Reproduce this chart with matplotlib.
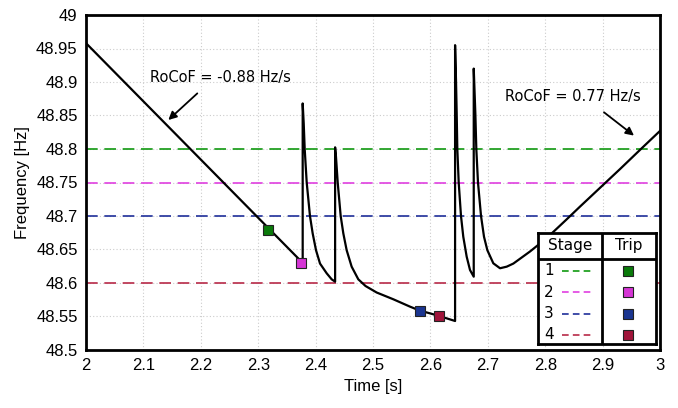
import matplotlib
matplotlib.use("Agg")
import matplotlib.pyplot as plt
from matplotlib.ticker import FuncFormatter, MultipleLocator

# frequency trace (time in s, frequency in Hz)
time = [2.0, 2.3775,
        # trip 1/2 -> first jump and decay
        2.3775, 2.3793, 2.3810, 2.3845, 2.3902, 2.3949, 2.4007, 2.4077, 2.4193, 2.428, 2.434,
        # second jump and decay
        2.434, 2.4355, 2.4385, 2.4437, 2.4483, 2.4541, 2.4628, 2.4744, 2.487,
        2.5064, 2.5354, 2.5645, 2.5819, 2.5993, 2.6155, 2.643,
        # third jump and decay
        2.643, 2.6446, 2.6458, 2.6469, 2.6493, 2.6533, 2.6573, 2.6632, 2.669, 2.6755,
        # fourth jump and decay
        2.6755, 2.6783, 2.6800, 2.6829, 2.6882, 2.6934, 2.6992, 2.7096, 2.7213,
        # recovery
        2.733, 2.7445, 2.7735, 2.8026, 2.8374, 2.8606, 2.9303, 2.968, 3.0]
freq = [48.958, 48.630,
        48.868, 48.838, 48.800, 48.750, 48.700, 48.674, 48.649, 48.629, 48.6145, 48.6055, 48.602,
        48.8025, 48.7885, 48.750, 48.700, 48.674, 48.649, 48.6244, 48.6055, 48.5955,
        48.5858, 48.5757, 48.5647, 48.5587, 48.5547, 48.5507, 48.5433,
        48.955, 48.903, 48.853, 48.800, 48.750, 48.700, 48.669, 48.6393, 48.6194, 48.6094,
        48.920, 48.853, 48.800, 48.750, 48.700, 48.669, 48.649, 48.6294, 48.622,
        48.6244, 48.629, 48.647, 48.667, 48.695, 48.714, 48.770, 48.801, 48.827]

# under-frequency load shedding stages
stages = ["1", "2", "3", "4"]
thresholds = [48.80, 48.75, 48.70, 48.60]
trip_time = [2.3165, 2.374, 2.5819, 2.6155]
trip_freq = [48.679, 48.630, 48.5587, 48.5507]
line_colors = ["#119911", "#e040e0", "#1f2f9a", "#b82a48"]
mark_colors = ["#0a7a0a", "#d535d5", "#1a3590", "#a0143a"]

rocof_text = ["RoCoF = -0.88 Hz/s", "RoCoF = 0.77 Hz/s"]
rocof_xy = [(2.1434, 48.8433), (2.9547, 48.820)]
rocof_txt_xy = [(2.1939, 48.883), (2.9024, 48.8548)]

fig = plt.figure(figsize=(6.78, 4.08), dpi=100)
ax = fig.add_axes([86 / 678, 58 / 408, 574 / 678, 335 / 408])

for thr, c in zip(thresholds, line_colors):
    ax.axhline(thr, color=c, lw=1.2, dashes=(7, 4), zorder=2)

ax.plot(time, freq, color="black", lw=1.6, zorder=3)

for tt, ff, c in zip(trip_time, trip_freq, mark_colors):
    ax.plot(tt, ff, "s", ms=7, mfc=c, mec="#222222", mew=0.8, zorder=4)

for txt, xy, xyt in zip(rocof_text, rocof_xy, rocof_txt_xy):
    ax.annotate("", xy=xy, xytext=xyt,
                arrowprops=dict(arrowstyle="-|>", color="black", lw=1.3,
                                mutation_scale=12, shrinkA=0, shrinkB=0))
ax.text(2.2334, 48.906, rocof_text[0], ha="center", va="center",
        fontsize=10.5, family="DejaVu Sans")
ax.text(2.848, 48.879, rocof_text[1], ha="center", va="center",
        fontsize=10.5, family="DejaVu Sans")

ax.set_xlim(2, 3)
ax.set_ylim(48.5, 49)
ax.xaxis.set_major_locator(MultipleLocator(0.1))
ax.yaxis.set_major_locator(MultipleLocator(0.05))
fmt = FuncFormatter(lambda v, p: "%g" % round(v, 3))
ax.xaxis.set_major_formatter(fmt)
ax.yaxis.set_major_formatter(fmt)
ax.tick_params(length=0, labelsize=12, pad=6)
for lab in ax.get_xticklabels() + ax.get_yticklabels():
    lab.set_family("Liberation Sans")
ax.grid(True, color="#cccccc", ls=(0, (1, 2)), lw=0.8)
for sp in ax.spines.values():
    sp.set_linewidth(2)
ax.set_xlabel("Time [s]", fontsize=12, family="Liberation Sans", labelpad=4)
ax.set_ylabel("Frequency [Hz]", fontsize=12, family="Liberation Sans", labelpad=4)

# stage / trip table legend
lg = fig.add_axes([538 / 678, 64 / 408, 118 / 678, 111 / 408])
lg.set_xlim(0, 1)
lg.set_ylim(0, 1)
lg.set_xticks([])
lg.set_yticks([])
for sp in lg.spines.values():
    sp.set_linewidth(2)
lg.axhline(0.763, color="black", lw=2)
lg.axvline(0.542, color="black", lw=2)
lg.text(0.271, 0.886, "Stage", ha="center", va="center", fontsize=11, family="DejaVu Sans")
lg.text(0.771, 0.886, "Trip", ha="center", va="center", fontsize=11, family="DejaVu Sans")
rows = [0.658, 0.468, 0.272, 0.084]
for s, v, lc, mc in zip(stages, rows, line_colors, mark_colors):
    lg.text(0.093, v, s, ha="center", va="center", fontsize=11, family="DejaVu Sans")
    lg.plot([0.203, 0.447], [v, v], color=lc, lw=1.2, dashes=(4, 2.5))
    lg.plot(0.765, v, "s", ms=7, mfc=mc, mec="#222222", mew=0.8)

fig.savefig("out.png", dpi=100)
